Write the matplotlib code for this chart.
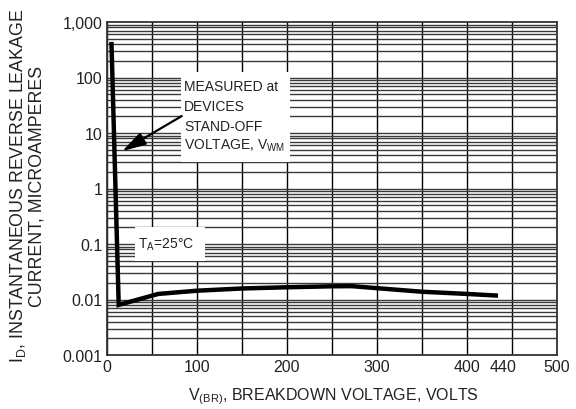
import numpy as np
import matplotlib
matplotlib.use("Agg")
import matplotlib.pyplot as plt
from matplotlib.patches import Rectangle
from matplotlib import font_manager

# Prefer a narrow sans (the reference uses a condensed Arial-like face)
try:
    font_manager.findfont('Liberation Sans Narrow', fallback_to_default=False)
    FAM = 'Liberation Sans Narrow'
    SC = 1.0 / 0.86
except Exception:
    FAM = 'Liberation Sans'
    SC = 1.0

plt.rcParams['font.family'] = [FAM, 'DejaVu Sans']
plt.rcParams['mathtext.fontset'] = 'custom'
plt.rcParams['mathtext.rm'] = FAM

# Data
voltage = [5, 13, 57, 100, 150, 200, 250, 272, 300, 350, 400, 432]
current = [400, 0.008, 0.0126, 0.0144, 0.0158, 0.0166, 0.0173, 0.0174, 0.0160, 0.0138, 0.0126, 0.0118]

x_ticks = [0, 100, 200, 300, 400, 440, 500]
x_tick_labels = ['0', '100', '200', '300', '400', '440', '500']
y_ticks = [0.001, 0.01, 0.1, 1, 10, 100, 1000]
y_tick_labels = ['0.001', '0.01', '0.1', '1', '10', '100', '1,000']

fig = plt.figure(figsize=(5.76, 4.10), dpi=100)
ax = fig.add_axes([107/576, 54/410, 450/576, 333/410])
ax.set_yscale('log')
ax.set_xlim(0, 500)
ax.set_ylim(0.001, 1000)

# grid
for xv in np.arange(0, 501, 50):
    ax.axvline(xv, color='black', lw=1.0, zorder=1)
for d in range(-3, 3):
    for m in range(1, 10):
        ax.axhline(m * 10.0**d, color='#3a3a3a', lw=1.0, zorder=1)

ax.set_xticks(x_ticks)
ax.set_xticklabels(x_tick_labels, fontsize=11.5*SC, color='#222222')
ax.set_yticks(y_ticks)
ax.set_yticklabels(y_tick_labels, fontsize=11.5*SC, color='#222222')
ax.yaxis.set_minor_locator(matplotlib.ticker.NullLocator())
ax.tick_params(length=0, pad=3)
for s in ax.spines.values():
    s.set_color('#333333')
    s.set_linewidth(1.3)

# white boxes masking grid
ax.add_patch(Rectangle((0.164, 0.580), 0.243, 0.270, transform=ax.transAxes,
                       facecolor='white', edgecolor='none', zorder=2))
ax.add_patch(Rectangle((0.062, 0.282), 0.156, 0.102, transform=ax.transAxes,
                       facecolor='white', edgecolor='none', zorder=2))

ax.plot(voltage, current, color='black', lw=3.2, zorder=4, solid_joinstyle='miter')

# annotation text
lines = ['MEASURED at', 'DEVICES', 'STAND-OFF', r'VOLTAGE, V$_\mathregular{WM}$']
ys = [87, 107, 127, 146]
for t, yp in zip(lines, ys):
    fig.text(184/576, 1 - yp/410, t, fontsize=10*SC, ha='left', va='center',
             zorder=5, color='#222222')

ax.annotate('', xy=(16.7, 4.7), xytext=(83, 20.2),
            arrowprops=dict(arrowstyle='-|>,head_length=0.9,head_width=0.25',
                            color='black', lw=1.6,
                            mutation_scale=16, shrinkA=0, shrinkB=0), zorder=5)

fig.text(166/576, 1 - 245/410, r'T$_\mathregular{A}$=25°C', fontsize=10*SC,
         ha='center', va='center', zorder=5, color='#222222')

# axis labels
fig.text(333/576, 1 - 397/410, r'V$_\mathregular{(BR)}$, BREAKDOWN VOLTAGE, VOLTS',
         fontsize=11.5*SC, ha='center', va='center', color='#222222')
fig.text(18.5/576, 1 - 186/410, r'I$_\mathregular{D}$, INSTANTANEOUS REVERSE LEAKAGE',
         fontsize=12.8*SC, ha='center', va='center', rotation=90, color='#222222')
fig.text(37.5/576, 1 - 186/410, 'CURRENT, MICROAMPERES',
         fontsize=12.8*SC, ha='center', va='center', rotation=90, color='#222222')

fig.savefig('out.png', dpi=100)
